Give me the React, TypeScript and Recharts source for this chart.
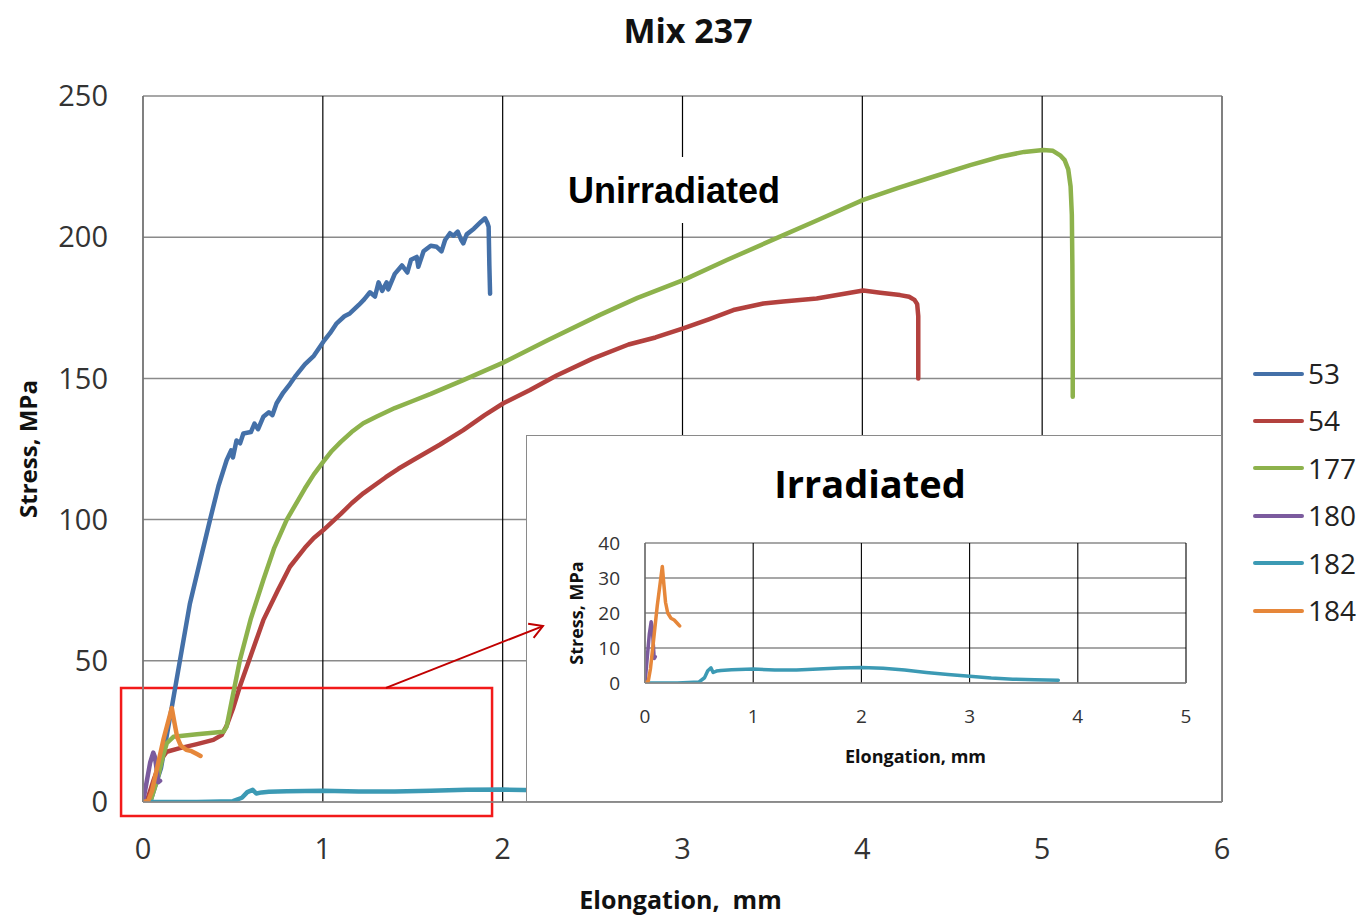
import React from 'react';
import { LineChart, Line, XAxis, YAxis, CartesianGrid, ReferenceLine, ReferenceArea } from 'recharts';

type P = { x: number; y: number };
const pts = (a: number[][]): P[] => a.map(([x, y]) => ({ x, y }));

// Series 53
const s53 = pts([
  [0.04, 0], [0.1, 12], [0.16, 33.5], [0.206, 50.3], [0.26, 70], [0.32, 86], [0.373, 100], [0.42, 112],
  [0.465, 121], [0.49, 124.5], [0.5, 122], [0.52, 128], [0.54, 127], [0.558, 130.5], [0.6, 131], [0.62, 134],
  [0.64, 132], [0.669, 136.4], [0.7, 138], [0.72, 137], [0.743, 141.2], [0.78, 145], [0.817, 148], [0.85, 151],
  [0.9, 155], [0.95, 158], [1.003, 163], [1.04, 166], [1.077, 169.5], [1.12, 172], [1.15, 173], [1.2, 176],
  [1.23, 178], [1.262, 180.5], [1.29, 179], [1.31, 184], [1.33, 181], [1.355, 184], [1.364, 181.5], [1.4, 187],
  [1.44, 190], [1.47, 187.5], [1.49, 192], [1.522, 193], [1.531, 189.5], [1.56, 195], [1.6, 197], [1.633, 196.6],
  [1.66, 195], [1.68, 199], [1.707, 201.4], [1.726, 200.5], [1.75, 202], [1.77, 199], [1.781, 197.8], [1.8, 201],
  [1.84, 203], [1.88, 205.5], [1.902, 206.7], [1.915, 205], [1.922, 203.7], [1.926, 190], [1.93, 180],
]);

// Series 54
const s54 = pts([
  [0.02, 0], [0.06, 8], [0.1, 15], [0.132, 17.8], [0.2, 19], [0.3, 20.5], [0.391, 22], [0.437, 23.7], [0.465, 27],
  [0.5, 33], [0.539, 41], [0.6, 52], [0.669, 64.4], [0.75, 75], [0.817, 83.3], [0.9, 90], [0.95, 93.5], [1.003, 96.3],
  [1.1, 102], [1.16, 105.8], [1.225, 109.3], [1.35, 115], [1.42, 118], [1.503, 121.1], [1.65, 126.5], [1.781, 131.7],
  [1.9, 137], [2.004, 141.2], [2.152, 145.9], [2.3, 151], [2.5, 157], [2.7, 162], [2.85, 164.5], [3.004, 167.7],
  [3.15, 171], [3.283, 174.2], [3.45, 176.5], [3.56, 177.2], [3.746, 178.3], [3.9, 180], [4.005, 181.1],
  [4.1, 180.3], [4.21, 179.5], [4.26, 178.9], [4.29, 177.8], [4.305, 176.3], [4.311, 172], [4.311, 150],
]);

// Series 177
const s177 = pts([
  [0.04, 0], [0.08, 8], [0.11, 16], [0.132, 20.8], [0.169, 23.1], [0.3, 24], [0.447, 24.9], [0.465, 26.7],
  [0.502, 38.5], [0.539, 50.3], [0.6, 65], [0.669, 78.6], [0.73, 90], [0.799, 99.9], [0.9, 111], [0.95, 116],
  [1.003, 120.5], [1.05, 124.3], [1.1, 127.5], [1.16, 131], [1.225, 134.1], [1.3, 136.5], [1.4, 139.5],
  [1.5, 142], [1.6, 144.5], [1.781, 149.4], [2.0, 155.5], [2.25, 163.5], [2.541, 172.5], [2.75, 178.5],
  [3.004, 184.8], [3.25, 192], [3.542, 200.2], [3.75, 206], [4.005, 213.2], [4.2, 217.5], [4.394, 221.4],
  [4.6, 225.5], [4.766, 228.5], [4.9, 230.2], [5.006, 230.9], [5.06, 230.6], [5.1, 229], [5.125, 227.3],
  [5.145, 224], [5.158, 218], [5.165, 208], [5.168, 190], [5.17, 167], [5.17, 143.5],
]);

// Series 180
const s180 = pts([
  [0, 0], [0.02, 7], [0.04, 14], [0.057, 17.5], [0.066, 16], [0.075, 12], [0.085, 7], [0.095, 7.5],
]);

// Series 182
const s182 = pts([
  [0, 0], [0.3, 0], [0.5, 0.3], [0.55, 1.5], [0.58, 3.5], [0.61, 4.3], [0.63, 3], [0.66, 3.4], [0.7, 3.6],
  [0.8, 3.8], [1.0, 4.0], [1.2, 3.7], [1.4, 3.7], [1.6, 4.0], [1.8, 4.3], [2.0, 4.4], [2.2, 4.2], [2.4, 3.7],
  [2.6, 3.0], [2.8, 2.4], [3.0, 1.9], [3.2, 1.4], [3.4, 1.1], [3.6, 0.9], [3.82, 0.8],
]);

// Series 184
const s184 = pts([
  [0, 0], [0.03, 0.5], [0.05, 4], [0.076, 11.3], [0.113, 22], [0.16, 33.3], [0.175, 28], [0.19, 23],
  [0.21, 20], [0.24, 18.5], [0.27, 18], [0.3, 17], [0.32, 16.3],
]);

const seriesNames = ['53', '54', '177', '180', '182', '184'];
const seriesData = [s53, s54, s177, s180, s182, s184];
const seriesColors = ['#4470A8', '#B3413E', '#8DB24C', '#7B5B9E', '#3C9AB4', '#E6873A'];
const insetSeries = [3, 4, 5];

const mainXTicks = [0, 1, 2, 3, 4, 5, 6];
const mainYTicks = [0, 50, 100, 150, 200, 250];
const insetXTicks = [0, 1, 2, 3, 4, 5];
const insetYTicks = [0, 10, 20, 30, 40];

// annotation anchors (data units of main chart)
const boxCorners = { x1: -0.122, x2: 1.941, y1: -4.96, y2: 40.4 };
const arrowFrom = { x: 1.351, y: 40.4 };
const arrowTo = { x: 2.224, y: 62.3 };

// main chart geometry
const W = 1361, H = 917;
const M = { top: 96, right: 139, left: 143, bottom: 115 };
const plotW = W - M.left - M.right;
const plotH = H - M.top - M.bottom;
const px = (x: number) => M.left + (x / 6) * plotW;
const py = (y: number) => M.top + plotH - (y / 250) * plotH;

const FONT = '"Open Sans", "Noto Sans", sans-serif';
const GRAY = '#8a8a8a';

export default function App() {
  const ax = px(arrowFrom.x), ay = py(arrowFrom.y);
  const bx = px(arrowTo.x), by = py(arrowTo.y);
  const ang = Math.atan2(by - ay, bx - ax);
  const hl = 15, ha = Math.PI / 6;
  const h1x = bx - hl * Math.cos(ang - ha), h1y = by - hl * Math.sin(ang - ha);
  const h2x = bx - hl * Math.cos(ang + ha), h2y = by - hl * Math.sin(ang + ha);

  return (
    <div style={{ position: 'absolute', left: 0, top: 0, width: W, height: H, background: '#fff', overflow: 'hidden' }}>
      <LineChart width={W} height={H} margin={{ top: M.top, right: M.right, bottom: 0, left: 0 }}>
        <CartesianGrid vertical={false} stroke={GRAY} strokeWidth={1.5} />
        <CartesianGrid horizontal={false} stroke="#000" strokeWidth={1.2} />
        <XAxis
          type="number" dataKey="x" domain={[0, 6]} ticks={mainXTicks} interval={0} height={M.bottom}
          tickLine={false} tickSize={0} tickMargin={36} allowDataOverflow
          axisLine={{ stroke: GRAY, strokeWidth: 1.5 }}
          tick={{ fontSize: 29, fill: '#333', fontFamily: FONT }}
          label={{
            content: (p: any) => {
              const vb = p.viewBox || { x: M.left, y: M.top + plotH, width: plotW, height: M.bottom };
              return (
                <text x={vb.x + vb.width / 2 - 2} y={vb.y + 107} textAnchor="middle" fontFamily={FONT} fontWeight={700} fontSize={25} fill="#111">
                  Elongation,{'\u00a0\u00a0'}mm
                </text>
              );
            },
          }}
        />
        <YAxis
          type="number" dataKey="y" domain={[0, 250]} ticks={mainYTicks} interval={0} width={M.left}
          tickLine={false} tickSize={0} tickMargin={35} allowDataOverflow
          axisLine={{ stroke: GRAY, strokeWidth: 1.5 }}
          tick={{ fontSize: 29, fill: '#333', fontFamily: FONT }}
          label={{
            content: (p: any) => {
              const vb = p.viewBox || { x: 0, y: M.top, width: M.left, height: plotH };
              const cy = vb.y + vb.height / 2;
              return (
                <text x={37} y={cy} transform={`rotate(-90 37 ${cy})`} textAnchor="middle" fontFamily={FONT} fontWeight={700} fontSize={24} fill="#111">
                  Stress, MPa
                </text>
              );
            },
          }}
        />
        <ReferenceLine x={6} stroke={GRAY} strokeWidth={1.5} />
        <ReferenceArea
          x1={boxCorners.x1} x2={boxCorners.x2} y1={boxCorners.y1} y2={boxCorners.y2}
          ifOverflow="visible" fill="none" fillOpacity={0} stroke="#F21A1A" strokeWidth={2.5}
        />
        {seriesData.map((d, i) => (
          <Line
            key={seriesNames[i]} name={seriesNames[i]} data={d} dataKey="y" type="linear"
            stroke={seriesColors[i]} strokeWidth={4.5} dot={false} activeDot={false}
            strokeLinejoin="round" strokeLinecap="round" isAnimationActive={false}
          />
        ))}
      </LineChart>

      {/* Legend */}
      <div style={{ position: 'absolute', left: 1253, top: 350, width: 108, fontFamily: FONT, fontSize: 28, color: '#222' }}>
        {seriesNames.map((n, i) => (
          <div key={n} style={{ display: 'flex', alignItems: 'center', height: 47.4 }}>
            <div style={{ width: 51, height: 4, background: seriesColors[i], borderRadius: 2 }} />
            <span style={{ marginLeft: 4, lineHeight: '47.4px' }}>{n}</span>
          </div>
        ))}
      </div>

      {/* Inset: Irradiated */}
      <div
        style={{
          position: 'absolute', left: 526, top: 435, width: 696, height: 367, background: '#fff',
          outline: `1.5px solid ${GRAY}`, outlineOffset: '-1px',
        }}
      >
        <LineChart width={696} height={367} margin={{ top: 108, right: 36, bottom: 0, left: 0 }}>
          <CartesianGrid vertical={false} stroke={GRAY} strokeWidth={1.3} />
          <CartesianGrid horizontal={false} stroke="#000" strokeWidth={1.1} />
          <XAxis
            type="number" dataKey="x" domain={[0, 5]} ticks={insetXTicks} interval={0} height={119}
            tickLine={false} tickSize={0} tickMargin={27} allowDataOverflow
            axisLine={{ stroke: GRAY, strokeWidth: 1.3 }}
            tick={{ fontSize: 19, fill: '#333', fontFamily: FONT }}
            label={{
              content: (p: any) => {
                const vb = p.viewBox || { x: 119, y: 248, width: 541, height: 119 };
                return (
                  <text x={vb.x + vb.width / 2} y={vb.y + 80} textAnchor="middle" fontFamily={FONT} fontWeight={700} fontSize={18} fill="#111">
                    Elongation, mm
                  </text>
                );
              },
            }}
          />
          <YAxis
            type="number" dataKey="y" domain={[0, 40]} ticks={insetYTicks} interval={0} width={119}
            tickLine={false} tickSize={0} tickMargin={25} allowDataOverflow
            axisLine={{ stroke: GRAY, strokeWidth: 1.3 }}
            tick={{ fontSize: 19, fill: '#333', fontFamily: FONT }}
            label={{
              content: (p: any) => {
                const vb = p.viewBox || { x: 0, y: 108, width: 119, height: 140 };
                const cy = vb.y + vb.height / 2;
                return (
                  <text x={57} y={cy} transform={`rotate(-90 57 ${cy})`} textAnchor="middle" fontFamily={FONT} fontWeight={700} fontSize={18} fill="#111">
                    Stress, MPa
                  </text>
                );
              },
            }}
          />
          {insetSeries.map((i) => (
            <Line
              key={seriesNames[i]} name={seriesNames[i]} data={seriesData[i]} dataKey="y" type="linear"
              stroke={seriesColors[i]} strokeWidth={3.5} dot={false} activeDot={false}
              strokeLinejoin="round" strokeLinecap="round" isAnimationActive={false}
            />
          ))}
        </LineChart>
      </div>

      {/* Titles and annotation overlay */}
      <svg width={W} height={H} style={{ position: 'absolute', left: 0, top: 0, pointerEvents: 'none' }}>
        <text x={688} y={43} textAnchor="middle" fontFamily={FONT} fontWeight={700} fontSize={34} fill="#111">
          Mix 237
        </text>
        <rect x={555} y={157} width={240} height={66} fill="#fff" />
        <text x={674} y={203} textAnchor="middle" fontFamily={'"Liberation Sans", Arial, sans-serif'} fontWeight={700} fontSize={36} fill="#000">
          Unirradiated
        </text>
        <text x={870} y={498} textAnchor="middle" fontFamily={FONT} fontWeight={700} fontSize={38} fill="#000">
          Irradiated
        </text>
        <line x1={ax} y1={ay} x2={bx} y2={by} stroke="#C00000" strokeWidth={2} />
        <polyline points={`${h1x},${h1y} ${bx},${by} ${h2x},${h2y}`} fill="none" stroke="#C00000" strokeWidth={2} />
      </svg>
    </div>
  );
}
